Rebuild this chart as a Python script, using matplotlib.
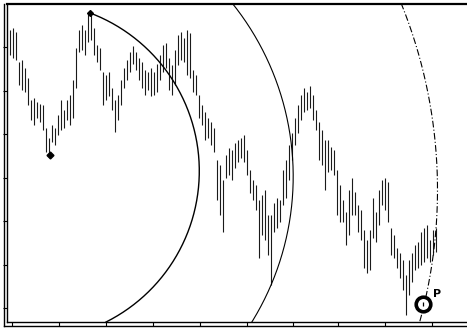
import numpy as np
import matplotlib
matplotlib.use("Agg")
import matplotlib.pyplot as plt

# bar highs / lows (arbitrary price units, one bar per day)
highs = [292, 294, 290, 260, 262, 254, 244, 222, 224, 220,
         218, 217, 194, 184, 197, 194, 207, 222, 212, 222,
         227, 242, 274, 292, 297, 292, 308, 309, 294, 277,
         274, 250, 247, 250, 234, 222, 227, 242, 254, 262,
         270, 276, 270, 264, 260, 252, 250, 254, 250, 258,
         267, 277, 279, 264, 257, 272, 287, 290, 284, 292,
         289, 252, 247, 227, 217, 210, 204, 200, 194, 162,
         157, 142, 167, 174, 172, 179, 182, 184, 187, 172,
         152, 142, 137, 122, 127, 132, 107, 107, 119, 124,
         122, 152, 162, 177, 189, 204, 217, 227, 234, 230,
         236, 227, 212, 200, 192, 182, 182, 175, 172, 152,
         137, 122, 110, 132, 144, 130, 117, 112, 92, 82,
         92, 124, 110, 132, 142, 144, 140, 94, 87, 74,
         69, 62, 47, 62, 69, 77, 80, 90, 94, 97,
         82, 92, 94]
lows = [267, 264, 262, 237, 232, 230, 217, 202, 197, 204,
        200, 192, 170, 167, 180, 177, 187, 192, 194, 202,
        197, 204, 234, 270, 272, 267, 280, 282, 267, 260,
        252, 217, 222, 226, 212, 190, 202, 217, 234, 242,
        250, 258, 252, 242, 234, 227, 232, 226, 227, 230,
        242, 250, 254, 232, 227, 237, 257, 262, 260, 247,
        244, 230, 227, 204, 197, 182, 184, 177, 170, 122,
        107, 90, 144, 147, 142, 154, 160, 164, 160, 147,
        129, 122, 112, 64, 87, 82, 67, 37, 90, 94,
        100, 117, 124, 142, 162, 177, 189, 202, 210, 212,
        214, 202, 192, 162, 157, 132, 150, 152, 147, 107,
        100, 100, 77, 87, 107, 107, 90, 82, 54, 49,
        52, 84, 80, 97, 117, 112, 100, 67, 64, 54,
        44, 32, 7, 27, 40, 52, 54, 57, 60, 64,
        60, 67, 70]
bars = np.arange(len(highs))

# marked swing points (bar, price)
low_mark = (13.3, 167)
peak_mark = (26.7, 309)
p_point = (137.7, 18)

# arcs: centre (bar, price), radius in bars and in price, angle range in degrees
arc_cx = [6.8, 2.2, -23.3]
arc_cy = [151, 145.5, 132]
arc_rx = [56.3, 92.2, 165.8]
arc_ry = [168.9, 276.7, 497.5]
arc_from = [-63.4, -40, -20]
arc_to = [69.3, 60, 30]
arc_style = ["-", "-", (0, (6, 2, 1, 2))]
arc_width = [1.0, 0.8, 0.8]

xticks = [0.7, 16.3, 32, 47.7, 63.3, 79, 94.3, 109.3, 125, 140.7]
yticks = [14, 57.5, 101, 144.5, 188, 231.5, 275]

W, H = 467, 332
fig = plt.figure(figsize=(W / 100, H / 100), dpi=100)

# outer line of the double frame
outer = fig.add_axes([3.5 / W, 6 / H, 1 - 3.5 / W, (H - 4 - 6) / H])
outer.set_facecolor("none")
outer.set_xticks([])
outer.set_yticks([])
for side in ["top", "right"]:
    outer.spines[side].set_visible(False)
for side in ["left", "bottom"]:
    outer.spines[side].set_linewidth(1.0)

ax = fig.add_axes([7 / W, 10 / H, 1 - 7 / W, (H - 4 - 10) / H])
ax.set_facecolor("none")
ax.vlines(bars, lows, highs, color="#1a1a1a", lw=0.8)

for cx, cy, rx, ry, a0, a1, ls, lw in zip(arc_cx, arc_cy, arc_rx, arc_ry,
                                          arc_from, arc_to, arc_style, arc_width):
    t = np.radians(np.linspace(a0, a1, 300))
    ax.plot(cx + rx * np.cos(t), cy + ry * np.sin(t), color="black", ls=ls, lw=lw)

ax.plot(*low_mark, marker="D", ms=3.5, color="black")
ax.plot(*peak_mark, marker="D", ms=3, color="black")
ax.plot(*p_point, marker="o", ms=10.5, mfc="white", mec="black", mew=2.6)
ax.plot(*p_point, marker="|", ms=3.5, color="black", mew=0.9)
ax.text(p_point[0] + 3.3, p_point[1] + 7, "P", fontsize=8, fontweight="bold")

ax.set_xlim(-1, (W - 10) / 3)
ax.set_ylim(0, 318)
ax.set_xticks(xticks)
ax.set_yticks(yticks)
ax.set_xticklabels([])
ax.set_yticklabels([])
ax.tick_params(direction="out", length=3, width=0.8, color="black")
ax.spines["right"].set_visible(False)
ax.spines["top"].set_linewidth(1.6)
ax.spines["left"].set_linewidth(1.0)
ax.spines["bottom"].set_linewidth(1.0)

fig.savefig("out.png", dpi=100)
